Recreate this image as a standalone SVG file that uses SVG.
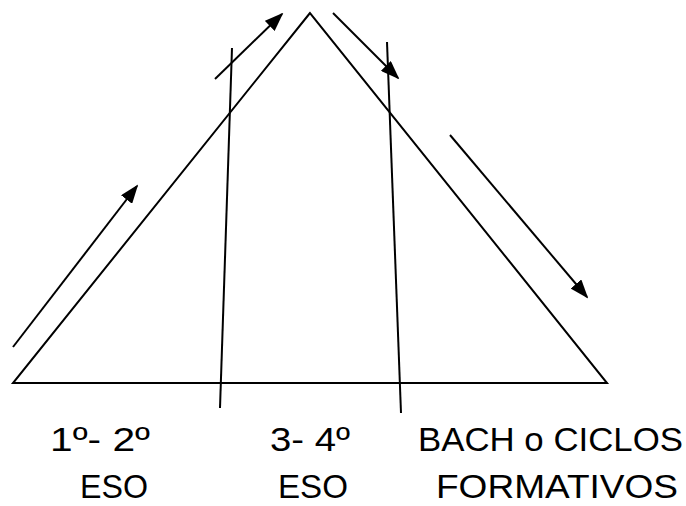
<svg xmlns="http://www.w3.org/2000/svg" width="686" height="506" viewBox="0 0 686 506">
<style>
.ln{stroke:#000;stroke-width:2;fill:none}
.ar{stroke:#000;stroke-width:2;fill:none;marker-end:url(#ah)}
.t{font-family:"Comic Sans MS","Liberation Sans",sans-serif;font-size:33px;fill:#000}
</style>
<defs>
<marker id="ah" viewBox="0 0 10 10" refX="9" refY="5" markerWidth="19" markerHeight="14" markerUnits="userSpaceOnUse" orient="auto" preserveAspectRatio="none">
<path d="M0,0 L10,5 L0,10 z" fill="#000"/>
</marker>
</defs>
<g id="pyramid">
<path class="ln" d="M310,13 L13,383 L607,383 Z"/>
</g>
<g id="dividers">
<line class="ln" x1="232" y1="48" x2="220" y2="408"/>
<line class="ln" x1="387" y1="42" x2="401" y2="413"/>
</g>
<g id="connectors">
<line class="ar" x1="13" y1="347" x2="137" y2="186"/>
<line class="ar" x1="215" y1="79" x2="282" y2="14"/>
<line class="ar" x1="333" y1="13" x2="398" y2="78"/>
<line class="ar" x1="450" y1="135" x2="587" y2="297"/>
</g>
<g id="label1">
<text class="t" x="50" y="451" textLength="100" lengthAdjust="spacingAndGlyphs">1º- 2º</text>
<text class="t" x="80" y="498" textLength="68" lengthAdjust="spacingAndGlyphs">ESO</text>
</g>
<g id="label2">
<text class="t" x="270" y="451" textLength="80" lengthAdjust="spacingAndGlyphs">3- 4º</text>
<text class="t" x="278" y="498" textLength="70" lengthAdjust="spacingAndGlyphs">ESO</text>
</g>
<g id="label3">
<text class="t" x="418" y="451" textLength="265" lengthAdjust="spacingAndGlyphs">BACH o CICLOS</text>
<text class="t" x="436" y="498" textLength="242" lengthAdjust="spacingAndGlyphs">FORMATIVOS</text>
</g>
</svg>
